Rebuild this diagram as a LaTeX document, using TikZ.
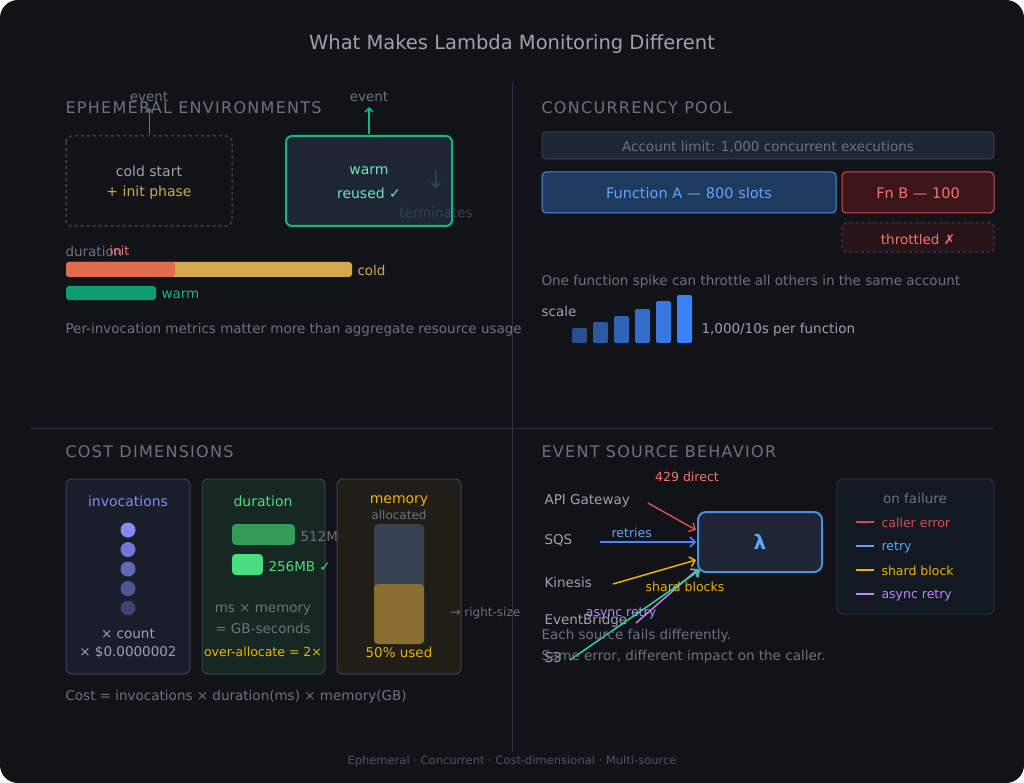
\documentclass[tikz,border=0pt]{standalone}
\usepackage{fontspec}
\setmainfont{DejaVu Sans}
\usetikzlibrary{arrows.meta, positioning}
\definecolor{bgdark}{HTML}{111318}
\definecolor{rulecol}{HTML}{2A3140}
\definecolor{headcol}{HTML}{6B7280}
\definecolor{txtgrey}{HTML}{9CA3AF}
\definecolor{boxfill}{HTML}{1E2636}
\definecolor{boxline}{HTML}{374151}
\definecolor{warmgreen}{HTML}{10B981}
\definecolor{warmtext}{HTML}{6EE7B7}
\definecolor{initorange}{HTML}{E06C4B}
\definecolor{coldgold}{HTML}{D4A84B}
\definecolor{fnblue}{HTML}{4A90E2}
\definecolor{fntext}{HTML}{60A5FA}
\definecolor{fnfill}{HTML}{1E3A5F}
\definecolor{fnbred}{HTML}{DC4B4B}
\definecolor{fnbtext}{HTML}{F87171}
\definecolor{fnbfill}{HTML}{3B1518}
\definecolor{invcol}{HTML}{818CF8}
\definecolor{durcol}{HTML}{4ADE80}
\definecolor{memgold}{HTML}{EAB308}
\definecolor{asyncpurple}{HTML}{C084FC}
\definecolor{s3green}{HTML}{34D399}
\definecolor{scaleblue}{HTML}{3B82F6}
\begin{document}
\begin{tikzpicture}[x=1pt,y=-1pt,font=\fontsize{13.5}{15}\selectfont]
    \tikzset{
        head/.style={anchor=west, text=headcol, font=\fontsize{16}{18}\selectfont\addfontfeature{LetterSpace=8}},
        note/.style={text=txtgrey},
        dim note/.style={anchor=west, text=headcol},
        card/.style={draw=boxline, rounded corners=6pt, line width=1pt},
        src/.style={anchor=west, text=txtgrey},
        flow/.style={-{Straight Barb[length=5pt]}, line width=1.5pt},
        key line/.style={line width=2.5pt}
      }
\useasboundingbox (0,0) rectangle (1024,783);
\fill[white] (0,0) rectangle (1024,783);
\fill[bgdark, rounded corners=18pt] (0,0) rectangle (1024,783);
\node(title)[text=txtgrey, font=\fontsize{19.5}{21}\selectfont] at (512,44) {What Makes Lambda Monitoring Different};
\draw[rulecol] (512,82) -- (512,752);
\draw[rulecol] (30,428) -- (994,428);
% ephemeral environments
\node(ephhead)[head] at (62,108) {EPHEMERAL ENVIRONMENTS};
\draw[card, dashed, draw=boxline, line width=1.5pt] (66,136) rectangle (232,226);
\node(cold)[note, font=\fontsize{14}{16}\selectfont] at (149,171) {cold start};
\node(init)[text=coldgold, font=\fontsize{14}{16}\selectfont] at (149,193) {+ init phase};
\coordinate (coldtop) at (149,134);
\node(coldev)[text=headcol] at (149,97) {event};
\draw[-{Straight Barb[length=4pt]}, headcol, line width=1pt] (coldtop) -- (149,108);
\draw[card, fill=boxfill, draw=warmgreen, line width=2pt] (286,136) rectangle (452,226);
\node(warm)[text=warmtext, font=\fontsize{14}{16}\selectfont] at (369,171) {warm};
\node(reused)[text=warmtext, font=\fontsize{14}{16}\selectfont] at (369,193) {reused ✓};
\coordinate (warmtop) at (369,134);
\node(warmev)[text=headcol] at (369,97) {event};
\draw[-{Straight Barb[length=4pt]}, warmgreen, line width=1.5pt] (warmtop) -- (369,107);
\node(down)[text=boxline, font=\fontsize{24}{26}\selectfont] at (436,180) {↓};
\node(term)[text=boxline] at (436,212) {terminates};
\node(durlbl)[dim note] at (62,251) {duration};
\node(initlbl)[anchor=west, text=fnbtext, font=\fontsize{12.5}{14}\selectfont] at (106,251) {init};
\fill[coldgold, rounded corners=3pt] (66,262) rectangle (352,277);
\fill[initorange, rounded corners=3pt] (66,262) rectangle (175,277);
\node(coldlbl)[anchor=west, text=coldgold] at (354,270) {cold};
\fill[warmgreen!85!black, rounded corners=3pt] (66,286) rectangle (156,300);
\node(warmlbl)[anchor=west, text=warmgreen] at (158,295) {warm};
\node(perinv)[dim note] at (62,330) {Per-invocation metrics matter more than aggregate resource usage};
% concurrency pool
\node(conchead)[head] at (538,108) {CONCURRENCY POOL};
\draw[card, fill=boxfill, rounded corners=4pt] (542,132) rectangle (994,159);
\node(limit)[text=headcol] at (768,147) {Account limit: 1,000 concurrent executions};
\draw[card, fill=fnfill, draw=fnblue, rounded corners=4pt] (542,172) rectangle (836,213);
\node(fna)[text=fntext, font=\fontsize{14.5}{16}\selectfont] at (689,193) {Function A — 800 slots};
\draw[card, fill=fnbfill, draw=fnbred, rounded corners=4pt] (842,172) rectangle (994,213);
\node(fnb)[text=fnbtext, font=\fontsize{14.5}{16}\selectfont] at (918,193) {Fn B — 100};
\draw[card, fill=fnbfill!50!bgdark, draw=fnbred!50!bgdark, dashed, rounded corners=4pt] (842,223) rectangle (994,252);
\node(throttled)[text=fnbtext] at (918,239) {throttled ✗};
\node(spike)[dim note] at (538,282) {One function spike can throttle all others in the same account};
\node(scale)[anchor=west, text=txtgrey] at (538,311) {scale};
\foreach \i/\top in {0/328,1/322,2/316,3/309,4/301,5/295}{
    \pgfmathsetmacro{\mix}{30+14*\i}
    \fill[scaleblue!\mix!fnfill, rounded corners=2pt] (572+21*\i,\top) rectangle (587+21*\i,343);
}
\node(rate)[anchor=west, text=txtgrey] at (698,330) {1,000/10s per function};
% cost dimensions
\node(costhead)[head] at (62,452) {COST DIMENSIONS};
\draw[card, fill=invcol!8!bgdark] (66,479) rectangle (190,674);
\node(invlbl)[text=invcol, font=\fontsize{14}{16}\selectfont] at (128,501) {invocations};
\foreach \i in {0,...,4}{
    \pgfmathsetmacro{\mix}{100-15*\i}
    \fill[invcol!\mix!bgdark] (128,530+19.5*\i) circle (7.5);
}
\node(count)[note] at (128,634) {× count};
\node(price)[note] at (128,652) {× \$0.0000002};
\draw[card, fill=durcol!10!bgdark] (202,479) rectangle (325,674);
\node(durhead)[text=durcol, font=\fontsize{14}{16}\selectfont] at (263,501) {duration};
\fill[durcol!70!black, rounded corners=4pt] (232,524) rectangle (295,545);
\node(big)[anchor=west, text=headcol] at (297,537) {512MB};
\fill[durcol, rounded corners=4pt] (232,554) rectangle (263,575);
\node(small)[anchor=west, text=durcol] at (265,567) {256MB ✓};
\node(msmem)[text=headcol] at (263,610) {ms × memory};
\node(gbs)[text=headcol] at (263,628) {= GB-seconds};
\node(over)[text=memgold, font=\fontsize{12.5}{14}\selectfont] at (263,652) {over-allocate = 2×};
\draw[card, fill=memgold!7!bgdark] (337,479) rectangle (461,674);
\node(memhead)[text=memgold, font=\fontsize{14}{16}\selectfont] at (399,501) {memory};
\node(alloc)[text=headcol, font=\fontsize{12}{14}\selectfont] at (399,515) {allocated};
\fill[boxline, rounded corners=4pt] (374,524) rectangle (424,644);
\fill[coldgold!65!black, rounded corners=4pt] (374,584) rectangle (424,644);
\node(used)[text=memgold] at (399,652) {50\% used};
\node(rightsize)[anchor=west, text=headcol, font=\fontsize{12}{14}\selectfont] at (447,613) {→ right-size};
\node(costeq)[dim note] at (62,697) {Cost = invocations × duration(ms) × memory(GB)};
% event source behavior
\node(evhead)[head] at (538,452) {EVENT SOURCE BEHAVIOR};
\node(apigw)[src] at (541,501) {API Gateway};
\node(sqs)[src] at (541,540) {SQS};
\node(kinesis)[src] at (541,582) {Kinesis};
\node(evbridge)[src] at (541,621) {EventBridge};
\node(s3)[src] at (541,658) {S3};
\draw[card, fill=boxfill, draw=fnblue, line width=2pt, rounded corners=8pt] (698,512) rectangle (822,572);
\node(lambda)[text=fntext, font=\bfseries\fontsize{20}{22}\selectfont] at (760,542) {λ};
\coordinate (inapi) at (696,530);
\coordinate (insqs) at (696,542);
\coordinate (inkin) at (696,560);
\coordinate (inev) at (698,569);
\coordinate (ins3) at (700,570);
\draw[flow, fnbred] (648,503) -- (inapi);
\node(direct)[text=fnbtext, font=\fontsize{12.5}{14}\selectfont] at (687,477) {429 direct};
\draw[flow, fntext!80!blue] (600,542) -- (insqs) node[pos=0.33, above, text=fntext, font=\fontsize{12.5}{14}\selectfont] {retries};
\draw[flow, memgold] (613,584) -- (inkin);
\node(shard)[text=memgold, font=\fontsize{12.5}{14}\selectfont] at (685,587) {shard blocks};
\draw[flow, asyncpurple] (636,623) -- (inev);
\node(async)[text=asyncpurple, font=\fontsize{12.5}{14}\selectfont] at (621,613) {async retry};
\draw[flow, s3green] (570,660) -- (ins3);
\node(each)[dim note] at (538,636) {Each source fails differently.};
\node(same)[dim note] at (538,657) {Same error, different impact on the caller.};
\draw[card, fill=bgdark!85!fnfill, draw=boxline!60!bgdark] (837,479) rectangle (994,614);
\node(onfail)[text=headcol] at (915,498) {on failure};
\foreach \y/\c/\t in {522/fnbred/caller error, 546/fntext/retry, 570/memgold/shard block, 594/asyncpurple/async retry}{
    \draw[key line, \c] (856,\y) -- (874,\y);
    \node[anchor=west, text=\c, font=\fontsize{12.5}{14}\selectfont] at (878,\y+1) {\t};
}
\node(footer)[text=boxline!80!txtgrey, font=\fontsize{11.5}{13}\selectfont] at (512,761) {Ephemeral · Concurrent · Cost-dimensional · Multi-source};
\end{tikzpicture}
\end{document}
